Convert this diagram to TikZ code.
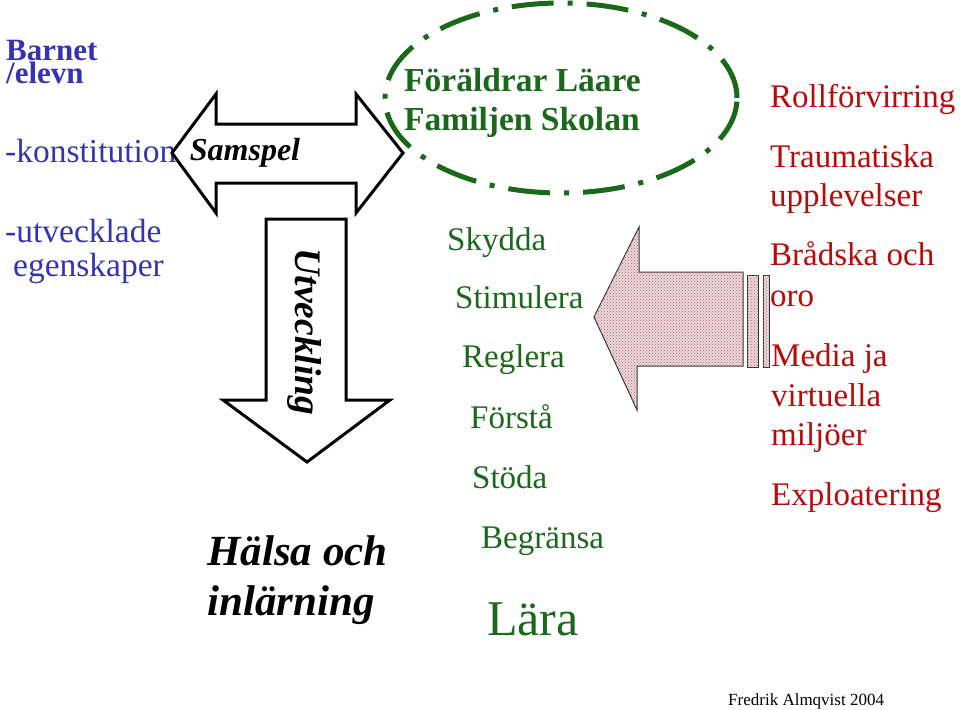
\documentclass[tikz,border=0pt]{standalone}
\usepackage{fontspec}
\setmainfont{Liberation Serif}
\usetikzlibrary{patterns}
\definecolor{tblue}{RGB}{51,51,180}
\definecolor{tgreen}{RGB}{26,104,26}
\definecolor{tred}{RGB}{185,10,10}
\definecolor{pinkfill}{RGB}{236,214,218}
\definecolor{pinkdot}{RGB}{170,110,120}
\begin{document}
\begin{tikzpicture}[x=1pt,y=-1pt,
  txt/.style={inner sep=0pt,anchor=base west},
  bluetxt/.style={txt,text=tblue,font=\fontsize{33.5}{36}\selectfont},
  greentxt/.style={txt,text=tgreen,font=\fontsize{33}{36}\selectfont},
  greenbold/.style={txt,text=tgreen,font=\fontsize{33.5}{36}\selectfont\bfseries},
  redtxt/.style={txt,text=tred,font=\fontsize{33}{36}\selectfont},
  bigarrow/.style={draw=black,line width=3pt,fill=white,line join=miter},
  pinkarrow/.style={draw=black!80,line width=1pt,fill=pinkfill,
     postaction={pattern=crosshatch dots,pattern color=pinkdot}}
]
\useasboundingbox (0,0) rectangle (960,709);

% left blue texts
\node[inner sep=0pt,anchor=base west,align=left,text=tblue,
  font=\fontsize{31}{23}\selectfont\bfseries] (barnet) at (6,83) {Barnet\\/elevn};
\node[bluetxt] (konst) at (5,162) {-konstitution};
\node[bluetxt] (utv) at (5,242) {-utvecklade};
\node[bluetxt] (egen) at (13,276) {egenskaper};

% Samspel double arrow
\draw[bigarrow] (172,153) -- (216,94) -- (216,124) -- (356,124) -- (356,94)
  -- (403,153) -- (356,213) -- (356,183) -- (216,183) -- (216,213) -- cycle;
\node[inner sep=0pt,font=\fontsize{32}{36}\selectfont\bfseries\itshape] (samspel) at (245,153) {Samspel};

% Utveckling down arrow
\draw[bigarrow] (266,219) -- (346,219) -- (346,400) -- (390,400) -- (307,462)
  -- (223,400) -- (266,400) -- cycle;
\node[inner sep=0pt,rotate=-90,font=\fontsize{37.5}{40}\selectfont\bfseries\itshape] (utveckling) at (305,332) {Utveckling};

% Hälsa och inlärning
\node[txt,font=\fontsize{43}{44}\selectfont\bfseries\itshape] (halsa) at (207,565) {Hälsa och};
\node[txt,font=\fontsize{43}{44}\selectfont\bfseries\itshape] (inlarning) at (207,615) {inlärning};

% green ellipse
\draw[tgreen,line width=5pt,dash pattern=on 42pt off 14pt on 5pt off 14pt] (561,98) ellipse [x radius=176pt,y radius=95pt];
\node[greenbold] (foraldrar) at (404,91) {Föräldrar Läare};
\node[greenbold] (familjen) at (404,130) {Familjen Skolan};

% green list
\node[greentxt] (skydda) at (447,250) {Skydda};
\node[greentxt] (stimulera) at (455,308) {Stimulera};
\node[greentxt] (reglera) at (462,367) {Reglera};
\node[greentxt] (forsta) at (470,428) {Förstå};
\node[greentxt] (stoda) at (472,488) {Stöda};
\node[greentxt] (begransa) at (481,548) {Begränsa};
\node[txt,text=tgreen,font=\fontsize{50}{52}\selectfont] (lara) at (487,635) {Lära};

% pink arrow
\draw[pinkarrow] (594,317) -- (639,227) -- (639,272) -- (743,272) -- (743,366)
  -- (637,366) -- (637,410) -- cycle;
\draw[pinkarrow] (747,275) rectangle (758,367);
\draw[pinkarrow] (763,275) rectangle (769,367);

% red texts
\node[redtxt] (roll) at (770,107) {Rollförvirring};
\node[redtxt] (trauma) at (770,167) {Traumatiska};
\node[redtxt] (uppl) at (770,206) {upplevelser};
\node[redtxt] (bradska) at (770,265) {Brådska och};
\node[redtxt] (oro) at (770,306) {oro};
\node[redtxt] (media) at (771,366) {Media ja};
\node[redtxt] (virt) at (771,406) {virtuella};
\node[redtxt] (milj) at (771,445) {miljöer};
\node[redtxt] (explo) at (771,505) {Exploatering};

% footer
\node[txt,font=\fontsize{17}{20}\selectfont] (footer) at (728,705) {Fredrik Almqvist 2004};
\end{tikzpicture}
\end{document}
